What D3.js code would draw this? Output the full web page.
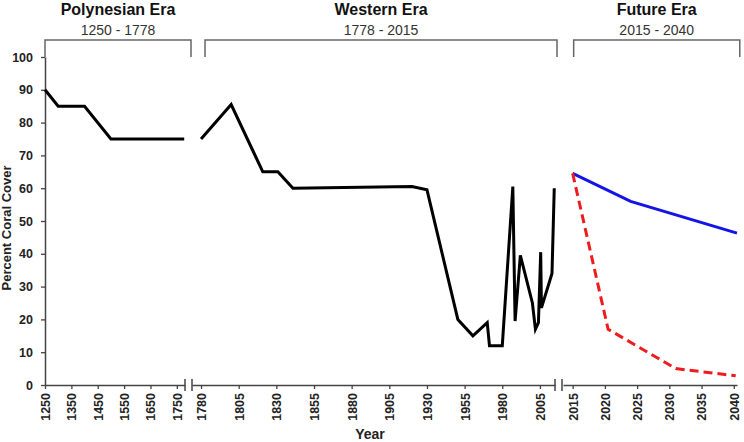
<!DOCTYPE html>
<html>
<head>
<meta charset="utf-8">
<style>
  body { margin: 0; background: #fff; }
  svg { font-family: 'Liberation Sans', Arial, sans-serif; }
  .axis .domain { stroke: #444; stroke-width: 1.5; }
  .axis .tick line { stroke: #444; stroke-width: 1.3; }
  .axis .tick text { font-size: 12.5px; font-weight: bold; fill: #222; }
  .era-title { font-size: 16px; font-weight: bold; fill: #111; }
  .era-span { font-size: 14px; fill: #333; }
  .bracket { fill: none; stroke: #666; stroke-width: 1.5; }
  .axis-label { font-size: 13px; font-weight: bold; fill: #222; }
</style>
</head>
<body>
<svg width="744" height="442"></svg>
<script src="https://d3js.org/d3.v7.min.js"></script>
<script>
// ---- data ----
const eraNames = ["Polynesian Era", "Western Era", "Future Era"];
const eraSpans = ["1250 - 1778", "1778 - 2015", "2015 - 2040"];

const yTicks = [0, 10, 20, 30, 40, 50, 60, 70, 80, 90, 100];
const polyTicks = [1250, 1350, 1450, 1550, 1650, 1750];
const westTicks = [1780, 1805, 1830, 1855, 1880, 1905, 1930, 1955, 1980, 2005];
const futureTicks = [2015, 2020, 2025, 2030, 2035, 2040];

const polyYears = [1250, 1300, 1400, 1500, 1778];
const polyCover = [90, 85, 85, 75, 75];

const westYears = [1780, 1800, 1821, 1831, 1841, 1920, 1930, 1950.5, 1960.5, 1970, 1971.5, 1980,
                   1987, 1988.5, 1992, 2000, 2002, 2004, 2005.5, 2006, 2013, 2014.5];
const westCover = [75, 85.5, 65, 65, 60, 60.5, 59.5, 20, 15, 19, 12, 12,
                   60.5, 19.5, 39.5, 25, 17, 19, 40.5, 23.5, 34, 60];

const blueYears = [2015, 2024, 2040.5];
const blueCover = [64.5, 56, 46.3];
const redYears = [2015, 2020.5, 2031, 2040.3];
const redCover = [64.5, 17, 5, 2.8];

const svg = d3.select("svg");

const y = d3.scaleLinear().domain([0, 100]).range([385, 57]);
const xPoly = d3.scaleLinear().domain([1250, 1781]).range([45, 185]);
const xWest = d3.scaleLinear().domain([1774, 2015]).range([192, 555]);
const xFut = d3.scaleLinear().domain([2013.5, 2040.5]).range([563, 737]);

// y axis
svg.append("g")
  .attr("class", "axis")
  .attr("transform", `translate(${xPoly(1250)},0)`)
  .call(d3.axisLeft(y).tickValues(yTicks).tickSize(4).tickSizeOuter(0).tickPadding(8));

// x axes, one per era
function xAxis(scale, ticks) {
  const g = svg.append("g")
    .attr("class", "axis")
    .attr("transform", `translate(0,${y(0)})`)
    .call(d3.axisBottom(scale).tickValues(ticks).tickFormat(d3.format("d")).tickSize(4).tickSizeOuter(0));
  g.selectAll(".tick text")
    .attr("transform", "rotate(-90)")
    .attr("x", -8)
    .attr("y", 0)
    .attr("dy", "0.35em")
    .style("text-anchor", "end");
}
xAxis(xPoly, polyTicks);
xAxis(xWest, westTicks);
xAxis(xFut, futureTicks);

// axis break marks
const breaks = [xPoly.range()[1], xWest.range()[0], xWest.range()[1], xFut.range()[0] - 1];
svg.append("g").selectAll("line")
  .data(breaks)
  .join("line")
  .attr("x1", d => d).attr("x2", d => d)
  .attr("y1", y(0) - 6).attr("y2", y(0) + 6)
  .attr("stroke", "#444").attr("stroke-width", 1.5);

// lines
function drawLine(scale, xs, ys, color, dash) {
  const pts = xs.map((d, i) => [d, ys[i]]);
  svg.append("path")
    .datum(pts)
    .attr("fill", "none")
    .attr("stroke", color)
    .attr("stroke-width", 3)
    .attr("stroke-linejoin", "miter")
    .attr("stroke-dasharray", dash || null)
    .attr("d", d3.line().x(d => scale(d[0])).y(d => y(d[1])));
}
drawLine(xPoly, polyYears, polyCover, "#000");
drawLine(xWest, westYears, westCover, "#000");
drawLine(xFut, blueYears, blueCover, "#1414e6");
drawLine(xFut, redYears, redCover, "#ee1c1c", "9,5");

// era brackets and titles
const brackets = [
  [xPoly(1250), xPoly.range()[1] + 6],
  [xWest(1778) + 7, xWest(2015) + 2],
  [xFut(2015) + 1, xFut(2040) + 6]
];
brackets.forEach((b, i) => {
  svg.append("path")
    .attr("class", "bracket")
    .attr("d", `M${b[0]},57V40H${b[1]}V57`);
  const cx = (b[0] + b[1]) / 2;
  svg.append("text").attr("class", "era-title")
    .attr("x", cx).attr("y", 15).attr("text-anchor", "middle")
    .text(eraNames[i]);
  svg.append("text").attr("class", "era-span")
    .attr("x", cx).attr("y", 35).attr("text-anchor", "middle")
    .text(eraSpans[i]);
});

// axis titles
svg.append("text").attr("class", "axis-label")
  .attr("transform", "translate(11,228) rotate(-90)")
  .attr("text-anchor", "middle")
  .text("Percent Coral Cover");

svg.append("text").attr("class", "axis-label")
  .style("font-size", "14px")
  .attr("x", 370).attr("y", 439)
  .attr("text-anchor", "middle")
  .text("Year");
</script>
</body>
</html>
